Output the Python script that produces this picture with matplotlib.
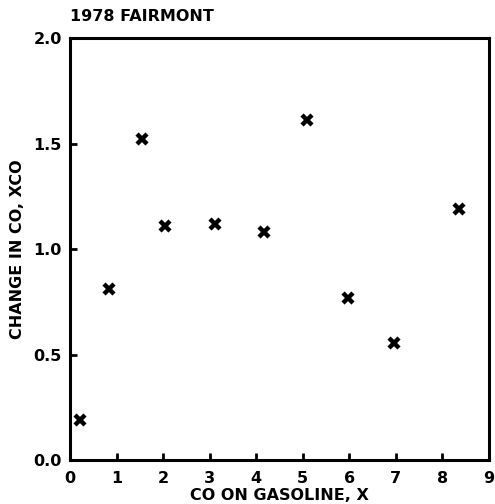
import matplotlib
matplotlib.use("Agg")
import matplotlib.pyplot as plt

# data
co_gasoline = [0.21, 0.84, 1.55, 2.04, 3.11, 4.16, 5.09, 5.97, 6.97, 8.35]
change_co = [0.19, 0.81, 1.52, 1.11, 1.12, 1.08, 1.61, 0.77, 0.555, 1.19]
x_ticks = [0, 1, 2, 3, 4, 5, 6, 7, 8, 9]
y_ticks = [0.0, 0.5, 1.0, 1.5, 2.0]
y_tick_labels = ["0.0", "0.5", "1.0", "1.5", "2.0"]
title = "1978 FAIRMONT"
xlabel = "CO ON GASOLINE, X"
ylabel = "CHANGE IN CO, XCO"

plt.rcParams['font.family'] = ['DejaVu Sans']
plt.rcParams['font.weight'] = 'bold'
FS = 11.5

fig = plt.figure(figsize=(4.95, 5.04), dpi=100)
ax = fig.add_axes([0.1414, 0.0873, 0.8465, 0.8373])

ax.plot(co_gasoline, change_co, linestyle='none', marker='x',
        markersize=7, markeredgewidth=3.2, color='black')

ax.set_xlim(0, 9)
ax.set_ylim(0, 2.0)
ax.set_xticks(x_ticks)
ax.set_xticklabels([str(t) for t in x_ticks], fontsize=FS, fontweight='bold')
ax.set_yticks(y_ticks)
ax.set_yticklabels(y_tick_labels, fontsize=FS, fontweight='bold')
ax.tick_params(axis='both', direction='in', length=5, width=2, color='black',
               top=False, right=False)
ax.tick_params(axis='x', pad=8)
ax.tick_params(axis='y', pad=6)

for s in ax.spines.values():
    s.set_linewidth(2.2)
    s.set_color('black')

ax.set_xlabel(xlabel, fontsize=FS, fontweight='bold', labelpad=1)
ax.set_ylabel(ylabel, fontsize=FS, fontweight='bold', labelpad=6)
ax.set_title(title, fontsize=FS, fontweight='bold', loc='left', pad=12)

fig.savefig("out.png", dpi=100, facecolor='white')
